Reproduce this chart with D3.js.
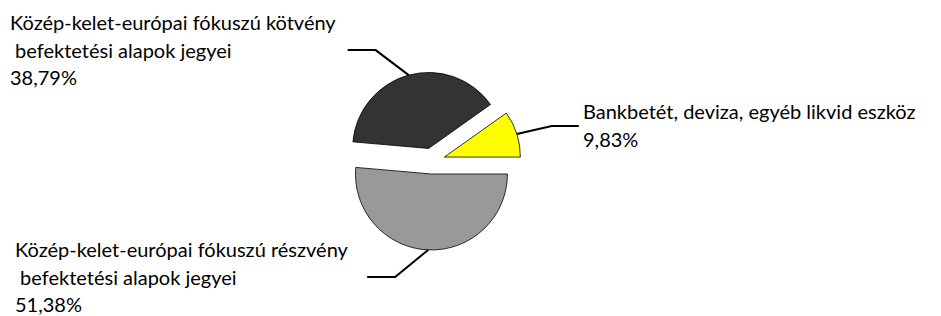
<!DOCTYPE html>
<html>
<head>
<meta charset="utf-8">
<script src="https://cdn.jsdelivr.net/npm/d3@7"></script>
<style>
  body { margin: 0; background: #fff; }
  text { font-family: Lato, "DejaVu Sans", sans-serif; font-size: 20px; fill: #000; white-space: pre; }
</style>
</head>
<body>
<div id="chart"></div>
<script>
// data
const categories = [
  "Közép-kelet-európai fókuszú kötvény\n befektetési alapok jegyei",
  "Bankbetét, deviza, egyéb likvid eszköz",
  "Közép-kelet-európai fókuszú részvény\n befektetési alapok jegyei"
];
const values = [38.79, 9.83, 51.38];
const valueLabels = ["38,79%", "9,83%", "51,38%"];
const colors = ["#333333", "#ffff00", "#999999"];

const width = 941;
const height = 316;
const cx = 432, cy = 161;
const radius = 76;
const explode = 13;

// label placement: elbow offset from arc point, end of leader, text anchor point
const labelLayout = [
  { elbow: [-33, -25], end: -28, tx: 10, ty: 30 },
  { elbow: [35, -8], end: 27, tx: 583, ty: 119 },
  { elbow: [-33, 27], end: -28, tx: 15, ty: 257 }
];

const svg = d3.select("#chart").append("svg")
    .attr("width", width)
    .attr("height", height);

const total = d3.sum(values);
const start = Math.PI / 2 - 2 * Math.PI * (values[0] + values[1]) / total;

const pie = d3.pie()
    .sort(null)
    .startAngle(start)
    .endAngle(start + 2 * Math.PI);

const arcs = pie(values);
const arc = d3.arc().innerRadius(0).outerRadius(radius);

const g = svg.append("g").attr("transform", `translate(${cx},${cy})`);

function offset(d) {
    const a = (d.startAngle + d.endAngle) / 2;
    return [explode * Math.sin(a), -explode * Math.cos(a)];
}

// slices
g.selectAll(".slice")
    .data(arcs)
    .enter().append("path")
    .attr("class", "slice")
    .attr("transform", d => `translate(${offset(d)})`)
    .attr("d", arc)
    .attr("fill", (d, i) => colors[i])
    .attr("stroke", "#000")
    .attr("stroke-width", 0.8);

// leader lines
g.selectAll(".leader")
    .data(arcs)
    .enter().append("polyline")
    .attr("class", "leader")
    .attr("fill", "none")
    .attr("stroke", "#000")
    .attr("stroke-width", 2)
    .attr("points", (d, i) => {
        const a = (d.startAngle + d.endAngle) / 2;
        const o = offset(d);
        const p0 = [o[0] + radius * Math.sin(a), o[1] - radius * Math.cos(a)];
        const L = labelLayout[i];
        const p1 = [p0[0] + L.elbow[0], p0[1] + L.elbow[1]];
        const p2 = [p1[0] + L.end, p1[1]];
        return [p0, p1, p2].map(p => p.join(",")).join(" ");
    });

// labels
const lineHeight = 27.5;
svg.selectAll(".label")
    .data(arcs)
    .enter().append("text")
    .attr("class", "label")
    .attr("transform", (d, i) => `translate(${labelLayout[i].tx},${labelLayout[i].ty})`)
    .each(function(d, i) {
        const lines = categories[i].split("\n").concat(valueLabels[i]);
        d3.select(this).selectAll("tspan")
            .data(lines)
            .enter().append("tspan")
            .attr("x", 0)
            .attr("y", (t, j) => j * lineHeight)
            .text(t => t);
    });
</script>
</body>
</html>
